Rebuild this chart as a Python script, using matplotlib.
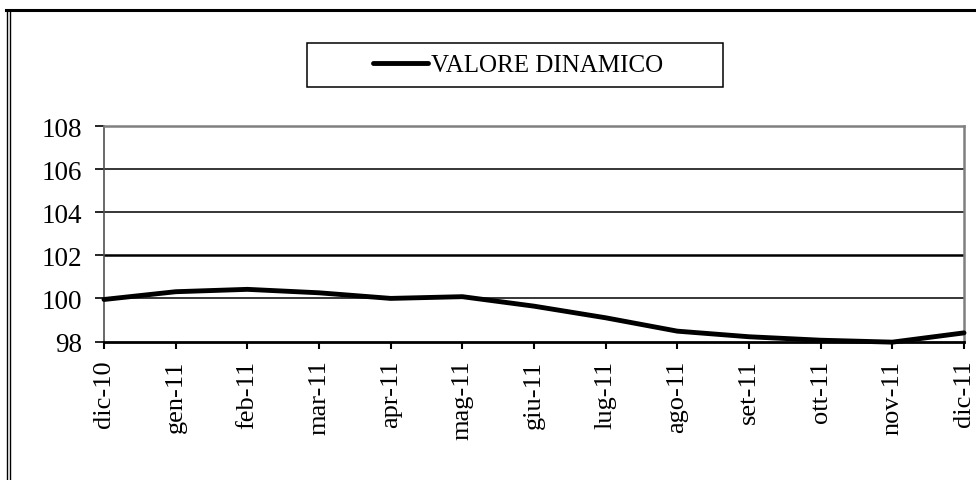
import matplotlib
matplotlib.use('Agg')
import matplotlib.pyplot as plt
from matplotlib.lines import Line2D
from matplotlib.patches import Rectangle

plt.rcParams['font.family'] = ['Liberation Serif', 'DejaVu Serif']

# monthly values
mesi = ['dic-10', 'gen-11', 'feb-11', 'mar-11', 'apr-11', 'mag-11', 'giu-11',
        'lug-11', 'ago-11', 'set-11', 'ott-11', 'nov-11', 'dic-11']
valore = [99.95, 100.31, 100.42, 100.26, 100.0, 100.08, 99.64,
          99.10, 98.48, 98.22, 98.06, 97.97, 98.40]
y_ticks = [98, 100, 102, 104, 106, 108]

W, H = 976, 481
fig = plt.figure(figsize=(W / 100, H / 100), dpi=100)
ax = fig.add_axes([104 / W, (H - 342.5) / H, 860 / W, 215.5 / H])

x = list(range(len(mesi)))
line, = ax.plot(x, valore, color='black', lw=3.5, solid_capstyle='round',
                clip_on=False, zorder=3)

ax.set_xlim(0, len(mesi) - 1)
ax.set_ylim(98, 108)
ax.set_yticks(y_ticks)
ax.set_xticks(x)
ax.set_xticklabels(mesi, rotation=90, fontsize=19)
ax.tick_params(axis='y', labelsize=19.5, length=6.5, width=1.2, pad=9, direction='out')
ax.tick_params(axis='x', length=5, width=1.5, pad=8, direction='out')

for v in y_ticks[1:-1]:
    ax.axhline(v, color='black', lw=1.1 if v != 102 else 1.8, zorder=1)

ax.spines['top'].set_color('#808080')
ax.spines['top'].set_linewidth(1.8)
ax.spines['right'].set_color('#808080')
ax.spines['right'].set_linewidth(1.8)
ax.spines['left'].set_color('#505050')
ax.spines['left'].set_linewidth(1.2)
ax.spines['bottom'].set_color('black')
ax.spines['bottom'].set_linewidth(2)

# legend with its own box
fig.legend([line], ['VALORE DINAMICO'], loc='center',
           bbox_to_anchor=(518 / W, (H - 66) / H), frameon=False,
           fontsize=18, handlelength=2.2, handletextpad=0.15)
fig.add_artist(Rectangle((307 / W, (H - 88) / H), 416 / W, 44 / H,
                         transform=fig.transFigure, fill=False,
                         edgecolor='black', lw=1.1))

# outer frame (top line and double left line)
fig.add_artist(Line2D([6 / W, 1], [(H - 10.5) / H] * 2, color='black', lw=2.2,
                      transform=fig.transFigure))
fig.add_artist(Line2D([6.5 / W] * 2, [0, (H - 10.5) / H], color='black', lw=1,
                      transform=fig.transFigure))
fig.add_artist(Line2D([9.5 / W] * 2, [0, (H - 12.5) / H], color='black', lw=1,
                      transform=fig.transFigure))

fig.savefig('out.png', dpi=100)
